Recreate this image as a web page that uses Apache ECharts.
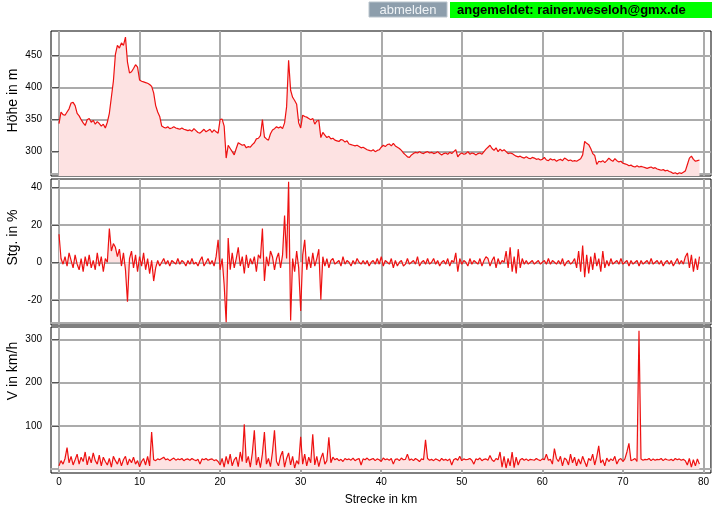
<!DOCTYPE html>
<html><head><meta charset="utf-8">
<script src="https://cdn.jsdelivr.net/npm/echarts@6/dist/echarts.min.js"></script>
<style>html,body{margin:0;padding:0;background:#fff;}#c{width:712px;height:521px;}</style>
</head><body><div id="c"></div>
<script>
// sampling step along the track (km)
const STEP_KM = 0.25;

// Höhe in m (every 0.25 km)
const elevation = [
344,362,358,357, 362,367,376,377, 372,360,356,350, 345,341,350,352, 346,349,343,347,
344,340,343,337, 346,360,385,410, 452,466,462,470, 466,479,440,423, 425,430,436,432,
412,410,409,408, 407,405,402,392, 372,362,355,340, 338,337,339,336, 337,339,337,336,
335,337,335,334, 333,334,332,336, 333,330,329,332, 335,331,333,335, 330,334,331,329,
350,351,340,290, 310,305,300,295, 305,314,312,310, 311,306,308,307, 311,314,320,321,
325,350,323,320, 318,328,334,336, 339,337,339,336, 345,370,443,396, 385,380,374,345,
337,357,355,354, 352,350,352,343, 348,349,322,330, 326,322,324,320, 321,318,317,316,
319,318,315,317, 312,311,310,309, 310,308,306,307, 305,303,302,301, 303,300,302,303,
307,310,308,311, 312,309,313,309, 307,305,302,298, 295,292,291,295, 297,299,298,300,
298,297,299,300, 298,299,297,298, 300,297,295,297, 298,296,299,297, 300,303,292,296,
298,296,297,300, 296,298,297,295, 297,298,296,300, 304,307,310,305, 302,306,300,304,
301,303,300,297, 298,297,295,293, 292,293,291,290, 292,290,289,291, 290,288,289,287,
288,291,287,286, 289,287,288,285, 287,288,286,290, 288,286,287,285, 286,285,287,289,
295,316,313,311, 305,297,294,280, 285,284,286,283, 286,290,287,285, 289,286,284,285,
282,281,280,278, 279,277,276,278, 276,277,276,275, 274,275,276,274, 275,273,272,271,
272,270,271,269, 268,266,267,265, 267,266,268,270, 280,290,293,288, 285,286,287
];

// Stg. in % (every 0.25 km)
const gradient = [
15,2,-1,3, -2,5,1,-3, 4,-1,-4,2, -5,3,-2,4, -3,1,-4,5,
-2,3,-5,2, 0,18,6,10, 8,3,7,-2, 5,-4,-21,2, 6,-3,4,-5,
3,-2,5,-4, 2,-6,1,-10, -3,1,-2,0, 2,-1,1,-2, 1,0,-1,2,
-1,1,0,-2, 1,-1,2,-1, 0,-2,1,3, -2,0,2,-1, 1,-2,3,12,
-4,2,-12,-32, 13,-4,5,-3, 2,8,-2,3, -6,4,-3,2, -1,3,-5,4,
2,18,-10,3, -2,6,3,-4, 2,5,-3,4, 25,2,43,-31, 2,-5,6,-3,
-26,4,12,-4, 3,-3,5,-2, 2,7,-20,3, -2,2,-3,1, 2,-1,0,1,
-2,3,-1,1, 0,-2,1,-1, 2,0,-1,1, -1,1,-2,0, 1,-1,2,-1,
3,-2,1,0, -1,2,-3,1, -2,0,1,-2, -1,2,-1,0, 1,-1,3,-2,
0,1,-1,2, -1,0,2,-1, 1,-2,0,1, -1,2,-2,1, 0,5,-5,2,
-1,1,0,-2, 2,-1,1,0, -1,2,-2,1, 3,2,-2,1, 3,-3,2,-1,
1,0,6,-3, 8,-5,3,-6, 7,-3,2,-1, 1,-1,0,1, -1,0,1,-1,
0,1,-1,2, -1,1,0,-1, 1,-1,2,-2, 0,1,-1,0, 2,-3,6,-5,
9,-8,4,-6, 3,-4,5,-2, 2,-5,6,-3, 1,-2,2,-1, 0,1,-1,2,
-1,0,1,-2, 1,-1,0,1, -2,1,-1,0, 1,-1,2,-1, 0,1,-1,1,
-2,0,1,-1, 1,-2,0,2, -1,1,-1,3, 5,-3,4,-5, 2,-4,3
];

// V in km/h (every 0.25 km)
const speed = [
8,20,12,25, 50,15,30,10, 22,35,12,28, 18,40,10,30, 15,38,20,12,
33,8,28,18, 10,25,5,30, 20,12,26,8, 22,30,10,24, 15,28,12,20,
6,18,25,10, 30,8,86,22, 20,24,22,25, 28,22,24,20, 23,26,21,24,
22,25,20,23, 24,21,25,22, 20,23,12,24, 22,25,21,23, 24,20,22,18,
10,25,5,30, 12,35,8,22, 28,6,40,18, 104,15,30,5, 38,90,10,28,
4,35,86,12, 25,6,40,90, 18,8,30,42, 5,25,38,10, 30,3,20,12,
75,12,35,8, 28,15,81,10, 30,6,25,38, 12,20,74,15, 28,22,25,20,
23,18,25,22, 24,21,26,20, 23,25,10,24, 22,26,21,23, 25,20,24,22,
18,26,22,24, 21,25,12,23, 24,20,26,22, 23,35,21,24, 20,25,22,18,
24,22,68,25, 21,23,20,24, 22,19,25,21, 23,20,24,10, 22,25,21,30,
20,24,22,23, 25,21,12,24, 22,26,20,23, 24,21,32,22, 18,25,22,40,
5,30,3,25, 8,40,4,28, 10,22,25,21, 24,20,23,22, 21,25,22,20,
24,22,35,21, 23,12,48,25, 18,30,8,26, 22,10,35,15, 28,8,24,12,
30,18,6,25, 20,35,10,28, 54,15,22,8, 26,18,24,20, 30,12,22,25,
18,24,40,60, 20,22,25,18, 320,24,21,23, 22,25,20,24, 21,23,22,25,
20,24,22,21, 23,20,25,22, 24,21,23,20, 10,25,5,22, 8,24,12
];

// tick labels
const xTicks = [0,10,20,30,40,50,60,70,80];
const elevTicks = [300,350,400,450];
const gradTicks = [-20,0,20,40];
const speedTicks = [100,200,300];
const yNames = ['Höhe in m','Stg. in %','V in km/h'];
const xName = 'Strecke in km';
const headerButton = 'abmelden';
const headerUser = 'angemeldet: rainer.weseloh@gmx.de';

const FONT = '"Liberation Sans", Arial, sans-serif';
const LINE = '#ee1111';
const FILL = '#fde2e2';
const GRIDC = '#ababab';

const toPairs = arr => arr.map((v, i) => [i * STEP_KM, v]);

const grids = [
  {left: 51, right: 1, top: 31, height: 145},
  {left: 51, right: 1, top: 179, height: 146},
  {left: 51, right: 1, top: 327, height: 146}
].map(g => Object.assign(g, {show: true, borderColor: '#000', borderWidth: 1, backgroundColor: '#fff', containLabel: false}));

function xAxis(i, labels, offset) {
  return {
    type: 'value', gridIndex: i, min: -0.993, max: 80.93,
    offset: offset,
    axisLine: {show: true, onZero: false, lineStyle: {color: GRIDC, width: 2}},
    axisTick: {show: false, customValues: xTicks},
    axisLabel: {show: labels, customValues: xTicks, fontSize: 10, color: '#000', fontFamily: FONT, margin: 8},
    splitLine: {show: true, lineStyle: {color: GRIDC, width: 2}}
  };
}
function yAxis(i, min, max, ticks) {
  return {
    type: 'value', gridIndex: i, min: min, max: max,
    axisLine: {show: false},
    axisTick: {show: true, length: 7, customValues: ticks, lineStyle: {color: '#555'}},
    axisLabel: {customValues: ticks, fontSize: 10, color: '#000', fontFamily: FONT, margin: 9},
    splitLine: {show: true, lineStyle: {color: GRIDC, width: 2}}
  };
}

const series = [
  {data: toPairs(elevation), idx: 0, origin: 'start'},
  {data: toPairs(gradient), idx: 1, origin: 'auto'},
  {data: toPairs(speed), idx: 2, origin: 'auto'}
].map(s => ({
  type: 'line', xAxisIndex: s.idx, yAxisIndex: s.idx, data: s.data,
  showSymbol: false, symbol: 'none', silent: true,
  lineStyle: {color: LINE, width: 1.2},
  areaStyle: {color: FILL, opacity: 1, origin: s.origin},
  z: 3
}));

const nameY = [100.5, 237.5, 371];
const graphic = [
  {type: 'rect', shape: {x: 369, y: 2, width: 78, height: 15}, style: {fill: '#8d9eac', stroke: '#b9c4cc', lineWidth: 1}},
  {type: 'text', x: 408, y: 10, style: {text: headerButton, fill: '#eef2f5', font: '13px ' + FONT, align: 'center', verticalAlign: 'middle'}},
  {type: 'rect', shape: {x: 450, y: 2, width: 262, height: 16}, style: {fill: '#00ff00'}},
  {type: 'text', x: 457, y: 10, style: {text: headerUser, fill: '#000', font: 'bold 13px ' + FONT, align: 'left', verticalAlign: 'middle'}},
  {type: 'text', x: 381, y: 500, style: {text: xName, fill: '#000', font: '12px ' + FONT, align: 'center', verticalAlign: 'middle'}}
].concat(yNames.map((n, i) => ({
  type: 'text', x: 13, y: nameY[i], rotation: Math.PI / 2,
  style: {text: n, fill: '#000', font: '14px ' + FONT, align: 'center', verticalAlign: 'middle'}
})));

const chart = echarts.init(document.getElementById('c'), null, {renderer: 'canvas'});
chart.setOption({
  animation: false,
  backgroundColor: '#fff',
  grid: grids,
  xAxis: [xAxis(0, false, -2), xAxis(1, false, -2), xAxis(2, true, -4)],
  yAxis: [
    yAxis(0, 262, 488.6, elevTicks),
    yAxis(1, -33.44, 44.43, gradTicks),
    yAxis(2, -8.5, 328.4, speedTicks)
  ],
  series: series,
  graphic: graphic
});
</script></body></html>
